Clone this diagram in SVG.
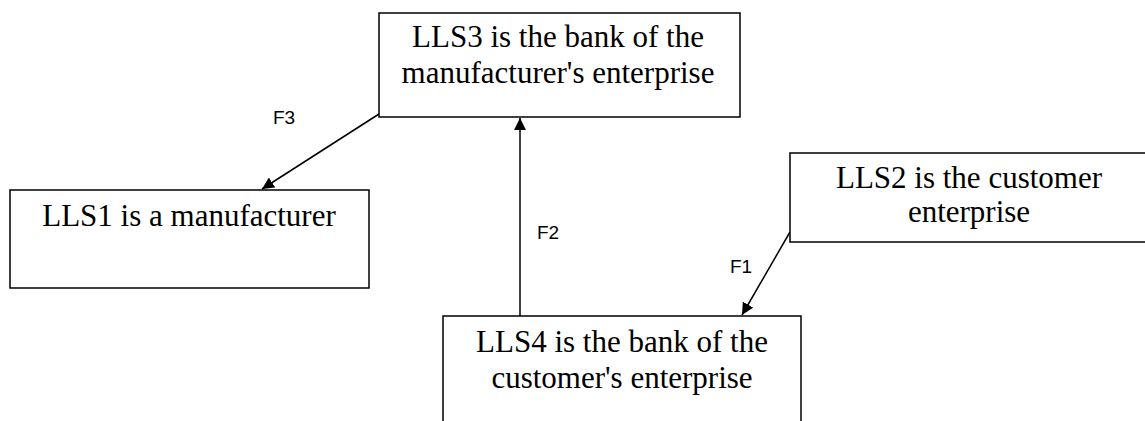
<svg xmlns="http://www.w3.org/2000/svg" width="1145" height="421" viewBox="0 0 1145 421">
<style>
.box{fill:#fff;stroke:#000;stroke-width:1.5}
.t{font-family:"Liberation Serif","Times New Roman",serif;font-size:31px;fill:#000;text-anchor:middle}
.lbl{font-family:"Liberation Sans",Arial,sans-serif;font-size:19px;fill:#000}
.edge{stroke:#000;stroke-width:1.5;fill:none;marker-end:url(#ah)}
</style>
<defs>
<marker id="ah" viewBox="0 0 10 10" refX="10" refY="5" markerWidth="12" markerHeight="12" markerUnits="userSpaceOnUse" orient="auto">
<path d="M0,0 L10,5 L0,10 z" fill="#000"/>
</marker>
</defs>
<rect width="1145" height="421" fill="#fff"/>
<g id="connectors">
<line class="edge" x1="379" y1="114" x2="262" y2="189"/>
<line class="edge" x1="520" y1="316" x2="520" y2="118"/>
<line class="edge" x1="790" y1="232" x2="742" y2="315"/>
<text class="lbl" x="273" y="124">F3</text>
<text class="lbl" x="537" y="239">F2</text>
<text class="lbl" x="730" y="273">F1</text>
</g>
<g id="LLS3">
<rect class="box" x="379" y="13" width="361" height="104"/>
<text class="t" x="558" y="47">LLS3 is the bank of the</text>
<text class="t" x="558" y="83">manufacturer's enterprise</text>
</g>
<g id="LLS1">
<rect class="box" x="10" y="190" width="359" height="98"/>
<text class="t" x="189" y="226">LLS1 is a manufacturer</text>
</g>
<g id="LLS2">
<rect class="box" x="790" y="153" width="370" height="89"/>
<text class="t" x="969" y="188">LLS2 is the customer</text>
<text class="t" x="969" y="222">enterprise</text>
</g>
<g id="LLS4">
<rect class="box" x="443" y="316" width="358" height="120"/>
<text class="t" x="622" y="352">LLS4 is the bank of the</text>
<text class="t" x="622" y="388">customer's enterprise</text>
</g>
</svg>
